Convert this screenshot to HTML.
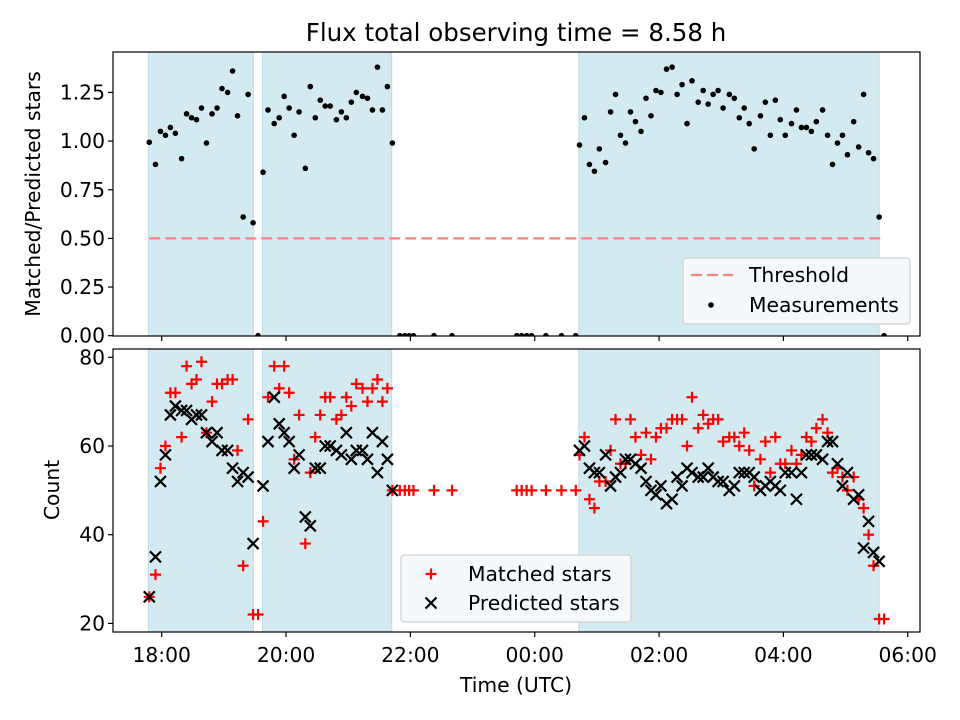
<!DOCTYPE html>
<html><head><meta charset="utf-8"><style>
html,body{margin:0;padding:0;background:#fff}
svg{display:block;font-family:"DejaVu Sans","Liberation Sans",sans-serif}
</style></head><body>
<svg id="chart" width="960" height="720" viewBox="0 0 960 720">
<text x="516" y="41" font-size="24.5" text-anchor="middle">Flux total observing time = 8.58 h</text>
<g id="top"></g>
<g id="bot"></g>
</svg>
<script>
// hours since 18:00 UTC
const times = [-0.20,-0.10,-0.02,0.06,0.14,0.22,0.32,0.40,0.48,0.56,0.64,0.72,0.81,0.89,0.97,1.06,1.14,1.22,1.31,1.39,1.47,1.55,1.63,1.71,1.81,1.89,1.97,2.05,2.13,2.21,2.31,2.39,2.47,2.55,2.63,2.71,2.81,2.89,2.97,3.05,3.13,3.23,3.31,3.39,3.47,3.55,3.63,3.71,
3.83,3.91,3.98,4.05,4.38,4.67,5.71,5.79,5.87,5.95,6.18,6.43,6.66,
6.72,6.80,6.88,6.96,7.04,7.14,7.22,7.30,7.38,7.46,7.54,7.62,7.71,7.79,7.87,7.95,8.03,8.12,8.21,8.29,8.37,8.45,8.53,8.63,8.71,8.79,8.87,8.95,9.03,9.13,9.21,9.29,9.37,9.45,9.53,9.63,9.71,9.79,9.87,9.95,10.03,10.13,10.21,10.29,10.37,10.45,10.53,10.63,10.71,10.79,10.87,10.95,11.03,11.13,11.21,11.29,11.37,11.45,11.54,11.62];
const ratios = [0.994,0.88,1.05,1.03,1.07,1.04,0.91,1.14,1.12,1.11,1.17,0.99,1.14,1.17,1.27,1.25,1.36,1.13,0.61,1.24,0.58,0,0.84,1.16,1.09,1.12,1.23,1.17,1.03,1.15,0.86,1.28,1.12,1.21,1.18,1.18,1.11,1.15,1.12,1.20,1.25,1.23,1.22,1.16,1.38,1.16,1.28,0.99,
0,0,0,0,0,0,0,0,0,0,0,0,0,
0.98,1.12,0.88,0.845,0.96,0.89,1.15,1.24,1.03,0.99,1.15,1.10,1.05,1.22,1.13,1.26,1.25,1.37,1.38,1.24,1.29,1.09,1.31,1.20,1.26,1.19,1.24,1.26,1.17,1.24,1.22,1.12,1.17,1.09,0.96,1.13,1.20,1.03,1.21,1.11,1.03,1.09,1.16,1.07,1.07,1.05,1.10,1.16,1.03,0.88,0.99,1.03,0.93,1.10,0.97,1.24,0.94,0.91,0.61,0];
const matched = [26,31,55,60,72,72,62,78,74,75,79,63,70,74,74,75,75,59,33,66,22,22,43,71,78,73,78,72,57,67,38,54,62,67,71,71,66,67,71,69,74,73,70,73,75,70,73,50,
50,50,50,50,50,50,50,50,50,50,50,50,50,
58,62,48,46,52,52,59,66,56,56,66,62,58,63,57,62,64,64,66,66,66,60,71,64,67,65,66,66,61,62,62,60,63,59,51,57,61,54,62,56,56,59,56,58,62,61,64,66,63,54,55,53,50,53,48,46,40,33,21,21];
const predicted = [26,35,52,58,67,69,68,68,66,67,67,63,61,63,59,59,55,52,54,53,38,0,51,61,71,65,63,61,55,58,44,42,55,55,60,60,59,58,63,57,59,59,57,63,54,61,57,50,
0,0,0,0,0,0,0,0,0,0,0,0,0,
59,60,55,54,54,58,51,53,54,57,57,56,55,52,50,49,51,47,48,53,51,55,54,53,53,55,53,52,52,50,51,54,54,54,53,50,51,52,51,50,54,54,48,54,58,58,58,57,61,61,56,51,54,48,49,37,43,36,34,0];
const spanStarts = [-0.215,1.62,6.71];
const spanEnds = [1.475,3.70,11.54];
const threshold = 0.5;
const xTickHours = [0,2,4,6,8,10,12];
const xTickLabels = ["18:00","20:00","22:00","00:00","02:00","04:00","06:00"];
const topTicks = [0,0.25,0.5,0.75,1.0,1.25];
const topTickLabels = ["0.00","0.25","0.50","0.75","1.00","1.25"];
const botTicks = [20,40,60,80];
const botTickLabels = ["20","40","60","80"];

const NS="http://www.w3.org/2000/svg";
const L=113,R=920;
const X=t=>161.7+t*62.17;
const TT=52,TB=336, BT=349,BB=632;
const YT=v=>335.7-v*194.6;
const YB=v=>357.3+(80-v)*4.435;
const FS=20.3;
function mk(tag,attrs,parent){const e=document.createElementNS(NS,tag);for(const k in attrs)e.setAttribute(k,attrs[k]);parent.appendChild(e);return e;}
const svg=document.getElementById('chart');
const defs=mk('defs',{},svg);
const c1=mk('clipPath',{id:'ct'},defs);mk('rect',{x:L,y:TT,width:R-L,height:TB-TT},c1);
const c2=mk('clipPath',{id:'cb'},defs);mk('rect',{x:L,y:BT,width:R-L,height:BB-BT},c2);

function panel(g,top,bot,clip,Y,ticks,labels){
  const pg=mk('g',{'clip-path':'url(#'+clip+')'},g);
  for(let i=0;i<spanStarts.length;i++){
    const s=mk('rect',{x:X(spanStarts[i]),y:top,width:X(spanEnds[i])-X(spanStarts[i]),height:bot-top,fill:'#d4eaf1',stroke:'#bcdce6','stroke-width':1},pg);
    
    
  }
  for(let i=0;i<ticks.length;i++){
    const y=Y(ticks[i]);
    mk('line',{x1:L-5,x2:L,y1:y,y2:y,stroke:'#000','stroke-width':1.2},g);
    const t=mk('text',{x:L-8,y:y+7,'font-size':FS,'text-anchor':'end'},g);t.textContent=labels[i];
    
    
  }
  for(let i=0;i<xTickHours.length;i++){
    const x=X(xTickHours[i]);
    mk('line',{x1:x,x2:x,y1:bot,y2:bot+5,stroke:'#000','stroke-width':1.2},g);
  }
  return pg;
}
// top panel
const gt=document.getElementById('top');
const pt=panel(gt,TT,TB,'ct',YT,topTicks,topTickLabels);
const th=mk('line',{x1:X(times[0]),x2:X(times[times.length-1]),y1:YT(threshold),y2:YT(threshold),stroke:'#ff8080','stroke-width':2.2,'stroke-dasharray':'11,5'},pt);


for(let i=0;i<times.length;i++){
  const d=mk('circle',{cx:X(times[i]),cy:YT(ratios[i]),r:2.8,fill:'#000'},pt);
  
  
}
mk('rect',{x:L,y:TT,width:R-L,height:TB-TT,fill:'none',stroke:'#000','stroke-width':1.2},gt);
const yl1=mk('text',{x:0,y:0,'font-size':FS,'text-anchor':'middle',transform:'translate(40,194) rotate(-90)'},gt);yl1.textContent='Matched/Predicted stars';


// legend top
const lg1=mk('g',{},gt);


mk('rect',{x:683,y:258,width:227,height:66,rx:3,fill:'#f5f9fb',stroke:'#d0d0d0','stroke-width':1.2},lg1);
mk('line',{x1:691,x2:733,y1:275,y2:275,stroke:'#ff8080','stroke-width':2.2,'stroke-dasharray':'11,5'},lg1);
let tx=mk('text',{x:749,y:282,'font-size':FS},lg1);tx.textContent='Threshold';
mk('circle',{cx:711,cy:305,r:2.8,fill:'#000'},lg1);
tx=mk('text',{x:749,y:312,'font-size':FS},lg1);tx.textContent='Measurements';

// bottom panel
const gb=document.getElementById('bot');
const pb=panel(gb,BT,BB,'cb',YB,botTicks,botTickLabels);
function plus(x,y,c,p){mk('path',{d:`M${x-5.5},${y}H${x+5.5}M${x},${y-5.5}V${y+5.5}`,stroke:c,'stroke-width':2.2},p);}
function cross(x,y,c,p){mk('path',{d:`M${x-5.5},${y-5.5}L${x+5.5},${y+5.5}M${x-5.5},${y+5.5}L${x+5.5},${y-5.5}`,stroke:c,'stroke-width':2.2},p);}
for(let i=0;i<times.length;i++){
  const g=mk('g',{},pb);
  
  
  plus(X(times[i]),YB(matched[i]),'#ff0000',g);
}
for(let i=0;i<times.length;i++){
  const g=mk('g',{},pb);
  
  
  cross(X(times[i]),YB(predicted[i]),'#000',g);
}
mk('rect',{x:L,y:BT,width:R-L,height:BB-BT,fill:'none',stroke:'#000','stroke-width':1.2},gb);
for(let i=0;i<xTickHours.length;i++){
  const t=mk('text',{x:X(xTickHours[i]),y:BB+30,'font-size':FS,'text-anchor':'middle'},gb);t.textContent=xTickLabels[i];
  
  
}
const yl2=mk('text',{x:0,y:0,'font-size':FS,'text-anchor':'middle',transform:'translate(59,490) rotate(-90)'},gb);yl2.textContent='Count';


const xl=mk('text',{x:516,y:692,'font-size':FS,'text-anchor':'middle'},gb);xl.textContent='Time (UTC)';


const lg2=mk('g',{},gb);


mk('rect',{x:401,y:555,width:230,height:67,rx:3,fill:'#f5f9fb',stroke:'#d0d0d0','stroke-width':1.2},lg2);
plus(431,574,'#ff0000',lg2);
tx=mk('text',{x:468,y:581,'font-size':FS},lg2);tx.textContent='Matched stars';
cross(431,603,'#000',lg2);
tx=mk('text',{x:468,y:610,'font-size':FS},lg2);tx.textContent='Predicted stars';
</script>
</body></html>
